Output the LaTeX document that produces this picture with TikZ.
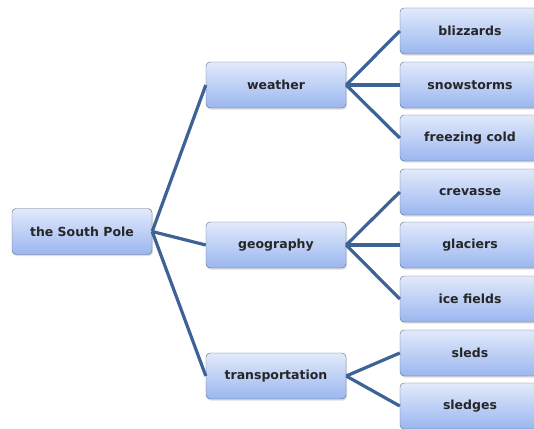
\documentclass[tikz,border=0pt]{standalone}
\usepackage{fontspec}
\setmainfont{DejaVu Sans}
\usetikzlibrary{shadows}

\definecolor{boxtop}{HTML}{E2EAFB}
\definecolor{boxbot}{HTML}{9AB6F0}
\definecolor{boxline}{HTML}{5F6A7C}
\definecolor{linkcol}{HTML}{3D6296}

\begin{document}
\begin{tikzpicture}[x=1pt, y=-1pt,
    topic/.style={draw=boxline, rounded corners=4pt, top color=boxtop, bottom color=boxbot,
        minimum width=140pt, minimum height=46pt, inner sep=0pt, text=black!85,
        font=\bfseries\fontsize{12.5}{14}\selectfont,
        drop shadow={shadow xshift=1pt, shadow yshift=-1.5pt, opacity=0.25}},
    link/.style={draw=linkcol, line width=3.2pt}]
            \useasboundingbox (0, 0) rectangle (534, 428);
            \clip (0, 0) rectangle (534, 428);

            \node[topic] (pole) at (82, 231.5) {the South Pole};
            \node[topic] (weather) at (276, 85) {weather};
            \node[topic] (geography) at (276, 245) {geography};
            \node[topic] (transport) at (276, 376) {transportation};

            \node[topic] (blizzards) at (470, 31) {blizzards};
            \node[topic] (snowstorms) at (470, 85) {snowstorms};
            \node[topic] (cold) at (470, 138) {freezing cold};
            \node[topic] (crevasse) at (470, 192) {crevasse};
            \node[topic] (glaciers) at (470, 245) {glaciers};
            \node[topic] (icefields) at (470, 299) {ice fields};
            \node[topic] (sleds) at (470, 353) {sleds};
            \node[topic] (sledges) at (470, 406) {sledges};

            \draw[link] (pole.east) -- (weather.west);
            \draw[link] (pole.east) -- (geography.west);
            \draw[link] (pole.east) -- (transport.west);
            \draw[link] (weather.east) -- (blizzards.west);
            \draw[link] (weather.east) -- (snowstorms.west);
            \draw[link] (weather.east) -- (cold.west);
            \draw[link] (geography.east) -- (crevasse.west);
            \draw[link] (geography.east) -- (glaciers.west);
            \draw[link] (geography.east) -- (icefields.west);
            \draw[link] (transport.east) -- (sleds.west);
            \draw[link] (transport.east) -- (sledges.west);
        \end{tikzpicture}
\end{document}
